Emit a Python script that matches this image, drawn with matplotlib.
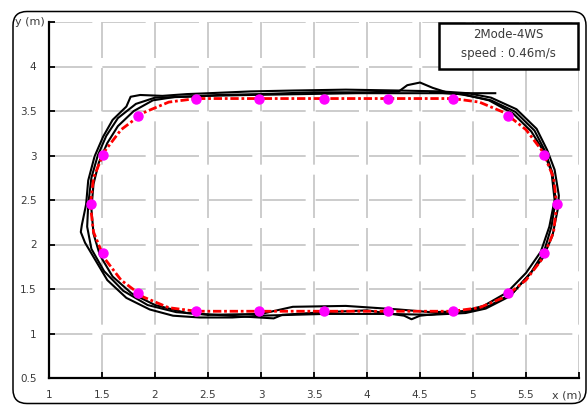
import matplotlib
matplotlib.use("Agg")
import matplotlib.pyplot as plt
from matplotlib.patches import FancyBboxPatch, Rectangle

# ---------------- data ----------------
x_ticks = [1, 1.5, 2, 2.5, 3, 3.5, 4, 4.5, 5, 5.5, 6]
x_tick_labels = ["1", "1.5", "2", "2.5", "3", "3.5", "4", "4.5", "5", "5.5", ""]
y_ticks = [0.5, 1, 1.5, 2, 2.5, 3, 3.5, 4, 4.5]
y_tick_labels = ["0.5", "1", "1.5", "2", "2.5", "3", "3.5", "4", ""]

# reference path (red dash-dot)
ref_x = [2.39, 2.98, 3.59, 4.20, 4.81, 5.06, 5.30, 5.50, 5.66, 5.76, 5.79, 5.76, 5.66, 5.50,
         5.30, 5.06, 4.81, 4.20, 3.59, 2.98, 2.39, 2.13, 1.89, 1.68, 1.52, 1.42, 1.39, 1.42,
         1.52, 1.68, 1.89, 2.13, 2.39]
ref_y = [1.25, 1.25, 1.25, 1.25, 1.25, 1.29, 1.41, 1.60, 1.85, 2.14, 2.445, 2.75, 3.04, 3.29,
         3.48, 3.60, 3.64, 3.64, 3.64, 3.64, 3.64, 3.60, 3.48, 3.29, 3.04, 2.75, 2.445, 2.14,
         1.85, 1.60, 1.41, 1.29, 1.25]

# way points (magenta)
wp_x = [2.39, 2.98, 3.59, 4.20, 4.81, 5.33, 5.67, 5.79, 5.67, 5.33,
        4.81, 4.20, 3.59, 2.98, 2.39, 1.84, 1.51, 1.395, 1.51, 1.84]
wp_y = [1.25, 1.25, 1.25, 1.25, 1.25, 1.46, 1.91, 2.46, 3.01, 3.44,
        3.64, 3.64, 3.64, 3.64, 3.64, 3.44, 3.01, 2.46, 1.91, 1.46]

# measured trajectory (black), three laps
lap1_x = [3.00, 3.60, 4.20, 4.60, 4.93, 5.12, 5.35, 5.53, 5.66, 5.75, 5.80, 5.81, 5.77, 5.70,
          5.60, 5.41, 5.17, 4.95, 4.70, 4.30, 3.80, 3.30, 2.90, 2.51, 2.30, 2.07, 1.86, 1.77,
          1.73, 1.60, 1.51, 1.43, 1.37, 1.35, 1.31, 1.30, 1.34, 1.42, 1.55, 1.73, 1.95, 2.17,
          2.42, 2.73, 3.00]
lap1_y = [1.20, 1.22, 1.22, 1.21, 1.23, 1.28, 1.42, 1.66, 1.85, 2.10, 2.40, 2.55, 2.84, 3.06,
          3.30, 3.52, 3.65, 3.70, 3.72, 3.73, 3.74, 3.73, 3.72, 3.70, 3.69, 3.67, 3.68, 3.66,
          3.55, 3.40, 3.21, 2.99, 2.72, 2.45, 2.22, 2.14, 2.02, 1.86, 1.60, 1.40, 1.27, 1.20,
          1.18, 1.18, 1.20]

lap2_x = [2.50, 3.00, 3.30, 3.80, 4.30, 4.60, 4.95, 5.15, 5.37, 5.55, 5.67, 5.74, 5.78, 5.75,
          5.68, 5.58, 5.40, 5.17, 4.92, 4.75, 4.62, 4.50, 4.38, 4.30, 4.00, 3.50, 3.00, 2.60,
          2.30, 2.00, 1.82, 1.65, 1.54, 1.46, 1.40, 1.37, 1.36, 1.40, 1.52, 1.70, 1.93, 2.20,
          2.50]
lap2_y = [1.21, 1.22, 1.30, 1.31, 1.27, 1.24, 1.25, 1.31, 1.45, 1.69, 1.92, 2.20, 2.50, 2.80,
          3.05, 3.28, 3.49, 3.62, 3.68, 3.71, 3.76, 3.82, 3.79, 3.72, 3.71, 3.71, 3.69, 3.68,
          3.66, 3.65, 3.58, 3.42, 3.22, 3.00, 2.75, 2.45, 2.20, 1.95, 1.70, 1.48, 1.32, 1.24,
          1.21]

lap3_x = [5.21, 4.90, 4.40, 3.90, 3.40, 2.90, 2.50, 2.20, 1.98, 1.80, 1.65, 1.55, 1.47, 1.42,
          1.40, 1.42, 1.48, 1.60, 1.78, 2.00, 2.30, 2.70, 3.12, 3.20, 3.60, 4.00, 4.35, 4.42,
          4.50, 4.90, 5.10, 5.32, 5.50, 5.64, 5.72, 5.77, 5.74, 5.66, 5.55, 5.38, 5.15, 4.90,
          4.60]
lap3_y = [3.70, 3.70, 3.70, 3.70, 3.69, 3.68, 3.67, 3.66, 3.62, 3.50, 3.33, 3.14, 2.92, 2.68,
          2.40, 2.12, 1.88, 1.64, 1.45, 1.32, 1.23, 1.20, 1.17, 1.21, 1.24, 1.26, 1.20, 1.16,
          1.20, 1.25, 1.31, 1.46, 1.68, 1.92, 2.20, 2.50, 2.82, 3.06, 3.27, 3.47, 3.62, 3.69,
          3.71]

legend_lines = ["2Mode-4WS", "speed : 0.46m/s"]

# ---------------- figure ----------------
W, H = 588, 405
fig = plt.figure(figsize=(W / 100, H / 100), dpi=100)
ax = fig.add_axes([49 / W, 27 / H, 530 / W, 356 / H])
ax.set_xlim(1, 6)
ax.set_ylim(0.5, 4.5)

ax.set_xticks(x_ticks)
ax.set_xticklabels(x_tick_labels)
ax.set_yticks(y_ticks)
ax.set_yticklabels(y_tick_labels)
ax.tick_params(direction="in", length=4, width=1.3, colors="black",
               labelsize=7.5, labelcolor="#3a3a3a", pad=9)

ax.grid(True, color="#c4c4c4", linewidth=1.2, linestyle=(0, (26, 6)))
ax.set_axisbelow(True)
for s in ("top", "right"):
    ax.spines[s].set_visible(False)
for s in ("left", "bottom"):
    ax.spines[s].set_linewidth(1.6)
    ax.spines[s].set_color("black")

for lx, ly in ((lap1_x, lap1_y), (lap2_x, lap2_y), (lap3_x, lap3_y)):
    ax.plot(lx, ly, color="black", linewidth=1.5, zorder=3)

ax.plot(ref_x, ref_y, color="red", linewidth=2.0, linestyle=(0, (3.0, 1.0, 1.0, 1.0)), zorder=4)
ax.plot(wp_x, wp_y, linestyle="none", marker="o", markersize=6.5, color="#ff00ff",
        markeredgecolor="#ff00ff", zorder=5)

# axis names
fig.text(15 / W, 1 - 22 / H, "y (m)", fontsize=8, color="#3a3a3a", ha="left", va="center")
fig.text(552 / W, 1 - 395 / H, "x (m)", fontsize=8, color="#3a3a3a", ha="left", va="center")

# legend box
fig.patches.append(Rectangle((439 / W, 1 - 69 / H), 139 / W, 46 / H, transform=fig.transFigure,
                             fill=True, facecolor="white", edgecolor="black", linewidth=1.8,
                             zorder=10))
fig.text(508 / W, 1 - 35 / H, legend_lines[0], fontsize=8.5, color="#3a3a3a", ha="center",
         va="center", zorder=11)
fig.text(508 / W, 1 - 53 / H, legend_lines[1], fontsize=8.5, color="#3a3a3a", ha="center",
         va="center", zorder=11)

# outer rounded frame
frame = FancyBboxPatch((0.13, 0.015), 5.73, 3.92, boxstyle="round,pad=0,rounding_size=0.14",
                       transform=fig.dpi_scale_trans, fill=False, edgecolor="black",
                       linewidth=1.1, zorder=0)
fig.patches.append(frame)

fig.savefig("out.png", dpi=100)
